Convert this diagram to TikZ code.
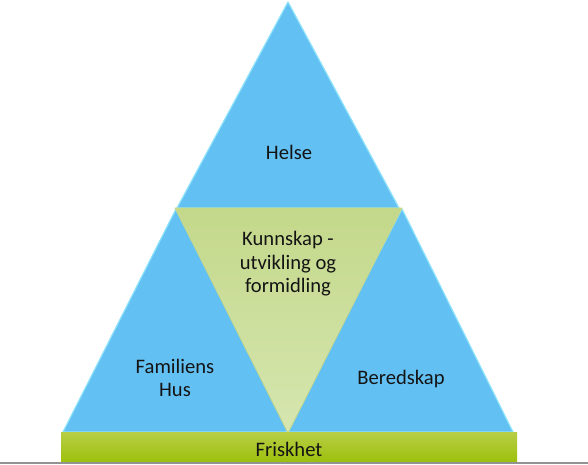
\documentclass[tikz,border=0pt]{standalone}
\usepackage{fontspec}
\setmainfont{Carlito}
\definecolor{tblue}{RGB}{99,192,243}
\definecolor{tedge}{RGB}{140,226,250}
\definecolor{tgreen}{RGB}{196,216,138}
\definecolor{tgreenlight}{RGB}{214,230,176}
\definecolor{bartop}{RGB}{184,206,70}
\definecolor{barbot}{RGB}{156,192,12}
\definecolor{txt}{RGB}{20,20,20}
\begin{document}
\begin{tikzpicture}[x=1pt,y=-1pt,
  bluetri/.style={fill=tblue,draw=tedge,line width=1.2pt,line join=round},
  greentri/.style={top color=tgreen,bottom color=tgreenlight,draw=tgreen,line width=0.8pt,line join=round},
  lbl/.style={text=txt,font=\fontsize{20.6}{23.5}\selectfont,align=center,inner sep=0pt}]
\useasboundingbox (0,0) rectangle (588,464);
\fill[white] (0,0) rectangle (588,464);
% blue triangles
\coordinate (ta) at (288,2);
\coordinate (tl) at (177,208);
\coordinate (tr) at (399,208);
\draw[bluetri] (ta) -- (tl) -- (tr) -- cycle;
\coordinate (la) at (176,209);
\coordinate (ll) at (63,432);
\coordinate (lr) at (290,432);
\draw[bluetri] (la) -- (ll) -- (lr) -- cycle;
\coordinate (ra) at (402,209);
\coordinate (rl) at (286,432);
\coordinate (rr) at (513,432);
\draw[bluetri] (ra) -- (rl) -- (rr) -- cycle;
% green inverted triangle
\coordinate (gl) at (175,208);
\coordinate (gr) at (402,208);
\coordinate (gb) at (288,433);
\draw[greentri] (gl) -- (gr) -- (gb) -- cycle;
% bar
\shade[top color=bartop,bottom color=barbot] (61,432) rectangle (517,462);
\node[lbl] (friskhet) at (289,449) {Friskhet};
% bottom line
\draw[gray!85,line width=1.2pt] (0,463) -- (588,463);
% labels
\node[lbl] (helse) at (289,152) {Helse};
\node[lbl] (kunnskap) at (288,264) {Kunnskap -\\utvikling og\\formidling};
\node[lbl] (familiens) at (175,378) {Familiens\\Hus};
\node[lbl] (beredskap) at (401,379) {Beredskap};
\end{tikzpicture}
\end{document}
